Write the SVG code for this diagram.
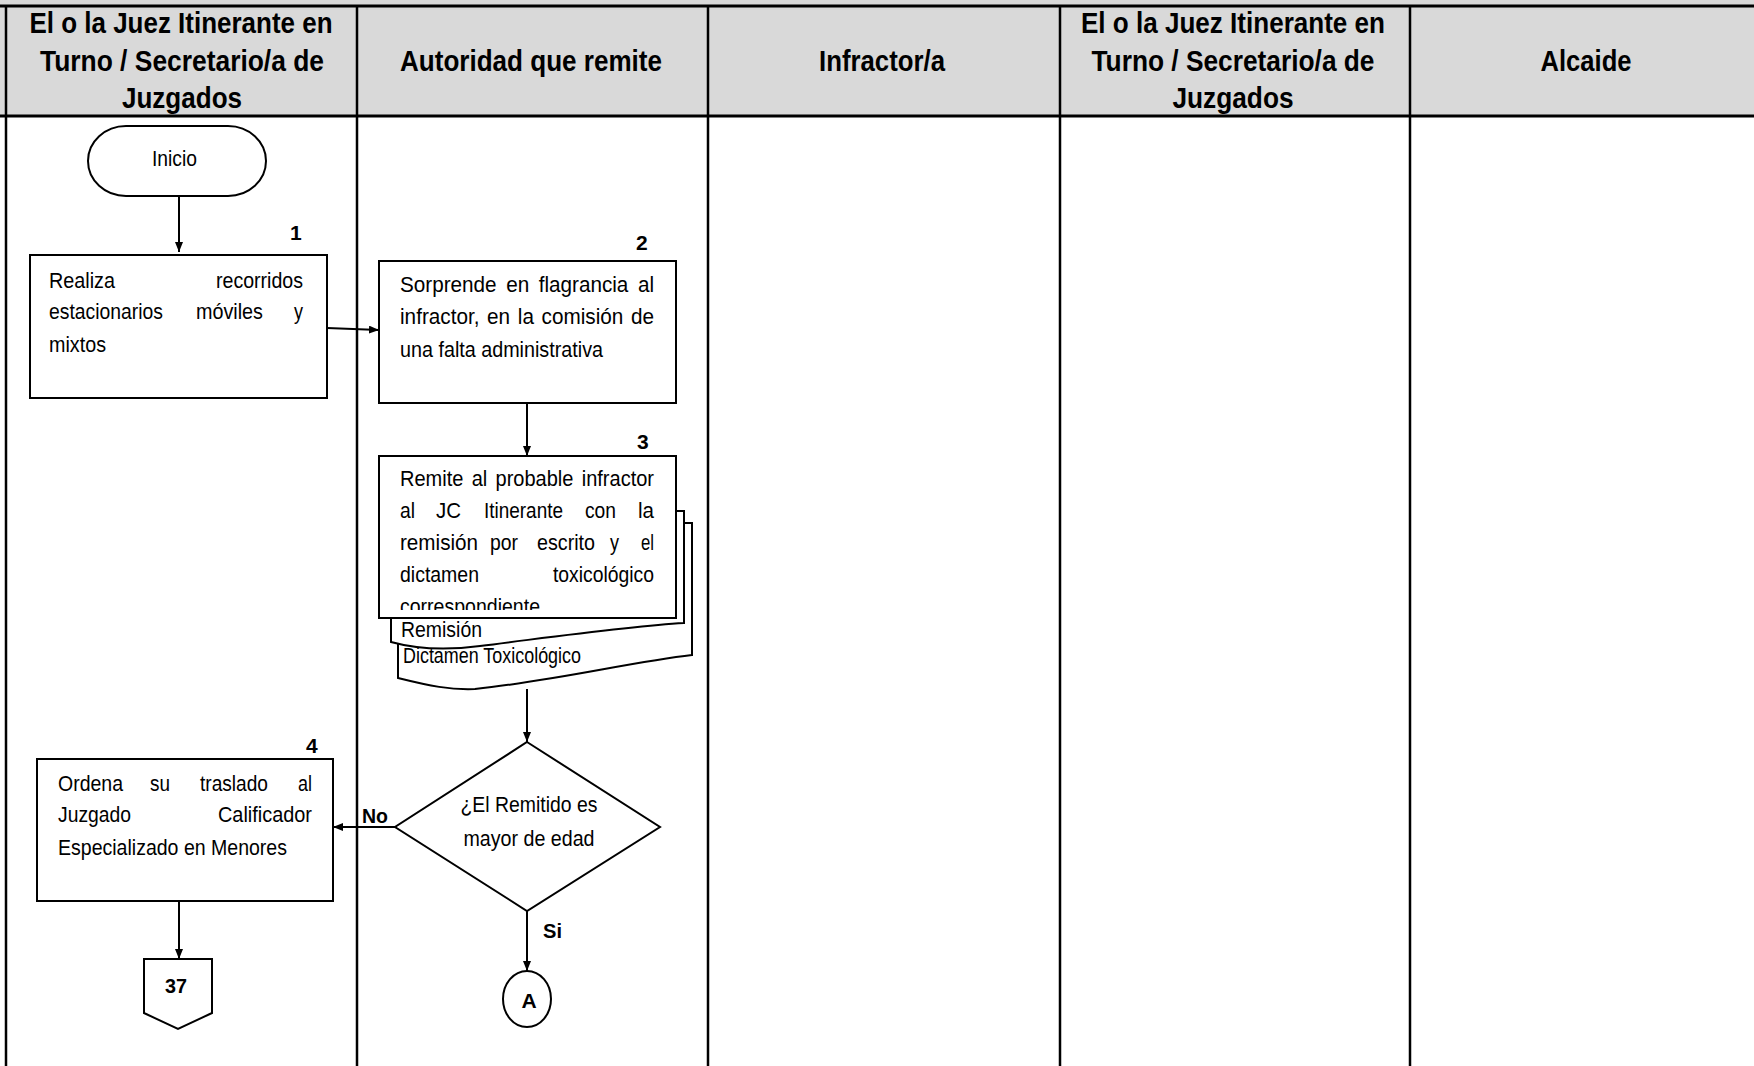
<svg xmlns="http://www.w3.org/2000/svg" width="1754" height="1066" viewBox="0 0 1754 1066">
<style>
.t{font-family:"Liberation Sans Narrow","Liberation Sans",Arial,sans-serif;font-size:22px;fill:#000}
.h{font-family:"Liberation Sans Narrow","Liberation Sans",Arial,sans-serif;font-size:30px;font-weight:bold;fill:#000;text-anchor:middle}
.b{font-family:"Liberation Sans Narrow","Liberation Sans",Arial,sans-serif;font-size:21px;font-weight:bold;fill:#000}
.m{text-anchor:middle}
.box{fill:#fff;stroke:#000;stroke-width:2}
.lane{stroke:#000;stroke-width:2.5;fill:none}
.hl{stroke:#000;stroke-width:3;fill:none}
.c{stroke:#000;stroke-width:2;fill:none;marker-end:url(#ah)}
</style>
<defs>
<marker id="ah" viewBox="0 0 10 8" refX="10" refY="4" markerWidth="10" markerHeight="8" markerUnits="userSpaceOnUse" orient="auto">
<path d="M0,0 L10,4 L0,8 z" fill="#000"/>
</marker>
<clipPath id="clip3"><rect x="380" y="457" width="295" height="153"/></clipPath>
</defs>
<rect x="0" y="0" width="1754" height="1066" fill="#fff"/>
<g id="lanes">
<rect x="0" y="0" width="1754" height="116" fill="#d9d9d9"/>
<line class="hl" x1="0" y1="6" x2="1754" y2="6"/>
<line class="hl" x1="0" y1="116" x2="1754" y2="116"/>
<line class="lane" x1="6" y1="6" x2="6" y2="1066"/>
<line class="lane" x1="357" y1="6" x2="357" y2="1066"/>
<line class="lane" x1="708" y1="6" x2="708" y2="1066"/>
<line class="lane" x1="1060" y1="6" x2="1060" y2="1066"/>
<line class="lane" x1="1410" y1="6" x2="1410" y2="1066"/>
<text class="h" x="181" y="33" textLength="303" lengthAdjust="spacingAndGlyphs">El o la Juez Itinerante en</text>
<text class="h" x="182" y="71" textLength="284" lengthAdjust="spacingAndGlyphs">Turno / Secretario/a de</text>
<text class="h" x="182" y="108" textLength="120" lengthAdjust="spacingAndGlyphs">Juzgados</text>
<text class="h" x="531" y="71" textLength="262" lengthAdjust="spacingAndGlyphs">Autoridad que remite</text>
<text class="h" x="882" y="71" textLength="126" lengthAdjust="spacingAndGlyphs">Infractor/a</text>
<text class="h" x="1233" y="33" textLength="304" lengthAdjust="spacingAndGlyphs">El o la Juez Itinerante en</text>
<text class="h" x="1233" y="71" textLength="283" lengthAdjust="spacingAndGlyphs">Turno / Secretario/a de</text>
<text class="h" x="1233" y="108" textLength="121" lengthAdjust="spacingAndGlyphs">Juzgados</text>
<text class="h" x="1586" y="71" textLength="91" lengthAdjust="spacingAndGlyphs">Alcaide</text>
</g>
<g id="connectors">
<line class="c" x1="179" y1="196" x2="179" y2="252"/>
<line class="c" x1="327" y1="328" x2="379" y2="330"/>
<line class="c" x1="527" y1="403" x2="527" y2="456"/>
<line class="c" x1="527" y1="689" x2="527" y2="742"/>
<line class="c" x1="395" y1="827" x2="333" y2="827"/>
<line class="c" x1="179" y1="902" x2="179" y2="959"/>
<line class="c" x1="527" y1="911" x2="527" y2="971"/>
<text class="b" x="362" y="823" textLength="26" lengthAdjust="spacingAndGlyphs">No</text>
<text class="b" x="543" y="938" textLength="19" lengthAdjust="spacingAndGlyphs">Si</text>
</g>
<g id="inicio">
<rect class="box" x="88" y="126" width="178" height="70" rx="38" ry="35"/>
<text class="t" x="152" y="166" textLength="45" lengthAdjust="spacingAndGlyphs">Inicio</text>
</g>
<g id="n1">
<text class="b" x="290" y="240">1</text>
<rect class="box" x="30" y="255" width="297" height="143"/>
<text class="t" x="49" y="288" textLength="66" lengthAdjust="spacingAndGlyphs">Realiza</text>
<text class="t" x="216" y="288" textLength="87" lengthAdjust="spacingAndGlyphs">recorridos</text>
<text class="t" x="49" y="319" textLength="114" lengthAdjust="spacingAndGlyphs">estacionarios</text>
<text class="t" x="196" y="319" textLength="67" lengthAdjust="spacingAndGlyphs">móviles</text>
<text class="t" x="294" y="319" textLength="9" lengthAdjust="spacingAndGlyphs">y</text>
<text class="t" x="49" y="352" textLength="57" lengthAdjust="spacingAndGlyphs">mixtos</text>
</g>
<g id="n2">
<text class="b" x="636" y="250">2</text>
<rect class="box" x="379" y="261" width="297" height="142"/>
<text class="t" x="400" y="292" textLength="254" lengthAdjust="spacingAndGlyphs" word-spacing="4">Sorprende en flagrancia al</text>
<text class="t" x="400" y="324" textLength="254" lengthAdjust="spacingAndGlyphs" word-spacing="2">infractor, en la comisión de</text>
<text class="t" x="400" y="357" textLength="203" lengthAdjust="spacingAndGlyphs">una falta administrativa</text>
</g>
<g id="n3">
<text class="b" x="637" y="449">3</text>
<path class="box" d="M676,523 L692,523 L692,655 C630,662 560,680 475,689 C450,690 430,686 398,678 L398,600 L676,600 z"/>
<path class="box" d="M676,511 L684,511 L684,623 C630,626 560,636 480,646 C450,650 420,650 391,642 L391,600 L676,600 z"/>
<rect class="box" x="379" y="456" width="297" height="162"/>
<g clip-path="url(#clip3)">
<text class="t" x="400" y="486" textLength="254" lengthAdjust="spacingAndGlyphs" word-spacing="3">Remite al probable infractor</text>
<text class="t" x="400" y="518" textLength="15" lengthAdjust="spacingAndGlyphs">al</text>
<text class="t" x="436" y="518" textLength="25" lengthAdjust="spacingAndGlyphs">JC</text>
<text class="t" x="484" y="518" textLength="79" lengthAdjust="spacingAndGlyphs">Itinerante</text>
<text class="t" x="585" y="518" textLength="31" lengthAdjust="spacingAndGlyphs">con</text>
<text class="t" x="638" y="518" textLength="16" lengthAdjust="spacingAndGlyphs">la</text>
<text class="t" x="400" y="550" textLength="78" lengthAdjust="spacingAndGlyphs">remisión</text>
<text class="t" x="490" y="550" textLength="28" lengthAdjust="spacingAndGlyphs">por</text>
<text class="t" x="537" y="550" textLength="58" lengthAdjust="spacingAndGlyphs">escrito</text>
<text class="t" x="610" y="550" textLength="9" lengthAdjust="spacingAndGlyphs">y</text>
<text class="t" x="641" y="550" textLength="13" lengthAdjust="spacingAndGlyphs">el</text>
<text class="t" x="400" y="582" textLength="79" lengthAdjust="spacingAndGlyphs">dictamen</text>
<text class="t" x="553" y="582" textLength="101" lengthAdjust="spacingAndGlyphs">toxicológico</text>
<text class="t" x="400" y="614" textLength="140" lengthAdjust="spacingAndGlyphs">correspondiente</text>
</g>
<text class="t" x="401" y="637" textLength="81" lengthAdjust="spacingAndGlyphs">Remisión</text>
<text class="t" x="403" y="663" textLength="178" lengthAdjust="spacingAndGlyphs">Dictamen Toxicológico</text>
</g>
<g id="decision">
<path class="box" d="M527,742 L660,827 L527,911 L395,827 z"/>
<text class="t m" x="529" y="812" textLength="137" lengthAdjust="spacingAndGlyphs">¿El Remitido es</text>
<text class="t m" x="529" y="846" textLength="131" lengthAdjust="spacingAndGlyphs">mayor de edad</text>
</g>
<g id="n4">
<text class="b" x="306" y="753">4</text>
<rect class="box" x="37" y="759" width="296" height="142"/>
<text class="t" x="58" y="791" textLength="65" lengthAdjust="spacingAndGlyphs">Ordena</text>
<text class="t" x="150" y="791" textLength="20" lengthAdjust="spacingAndGlyphs">su</text>
<text class="t" x="200" y="791" textLength="68" lengthAdjust="spacingAndGlyphs">traslado</text>
<text class="t" x="298" y="791" textLength="14" lengthAdjust="spacingAndGlyphs">al</text>
<text class="t" x="58" y="822" textLength="73" lengthAdjust="spacingAndGlyphs">Juzgado</text>
<text class="t" x="218" y="822" textLength="94" lengthAdjust="spacingAndGlyphs">Calificador</text>
<text class="t" x="58" y="855" textLength="229" lengthAdjust="spacingAndGlyphs">Especializado en Menores</text>
</g>
<g id="offpage37">
<path class="box" d="M144,959 L212,959 L212,1013 L178,1029 L144,1013 z"/>
<text class="b m" x="176" y="993" textLength="22" lengthAdjust="spacingAndGlyphs">37</text>
</g>
<g id="connA">
<ellipse class="box" cx="527" cy="999" rx="24" ry="28"/>
<text class="b m" x="529" y="1008">A</text>
</g>
</svg>
